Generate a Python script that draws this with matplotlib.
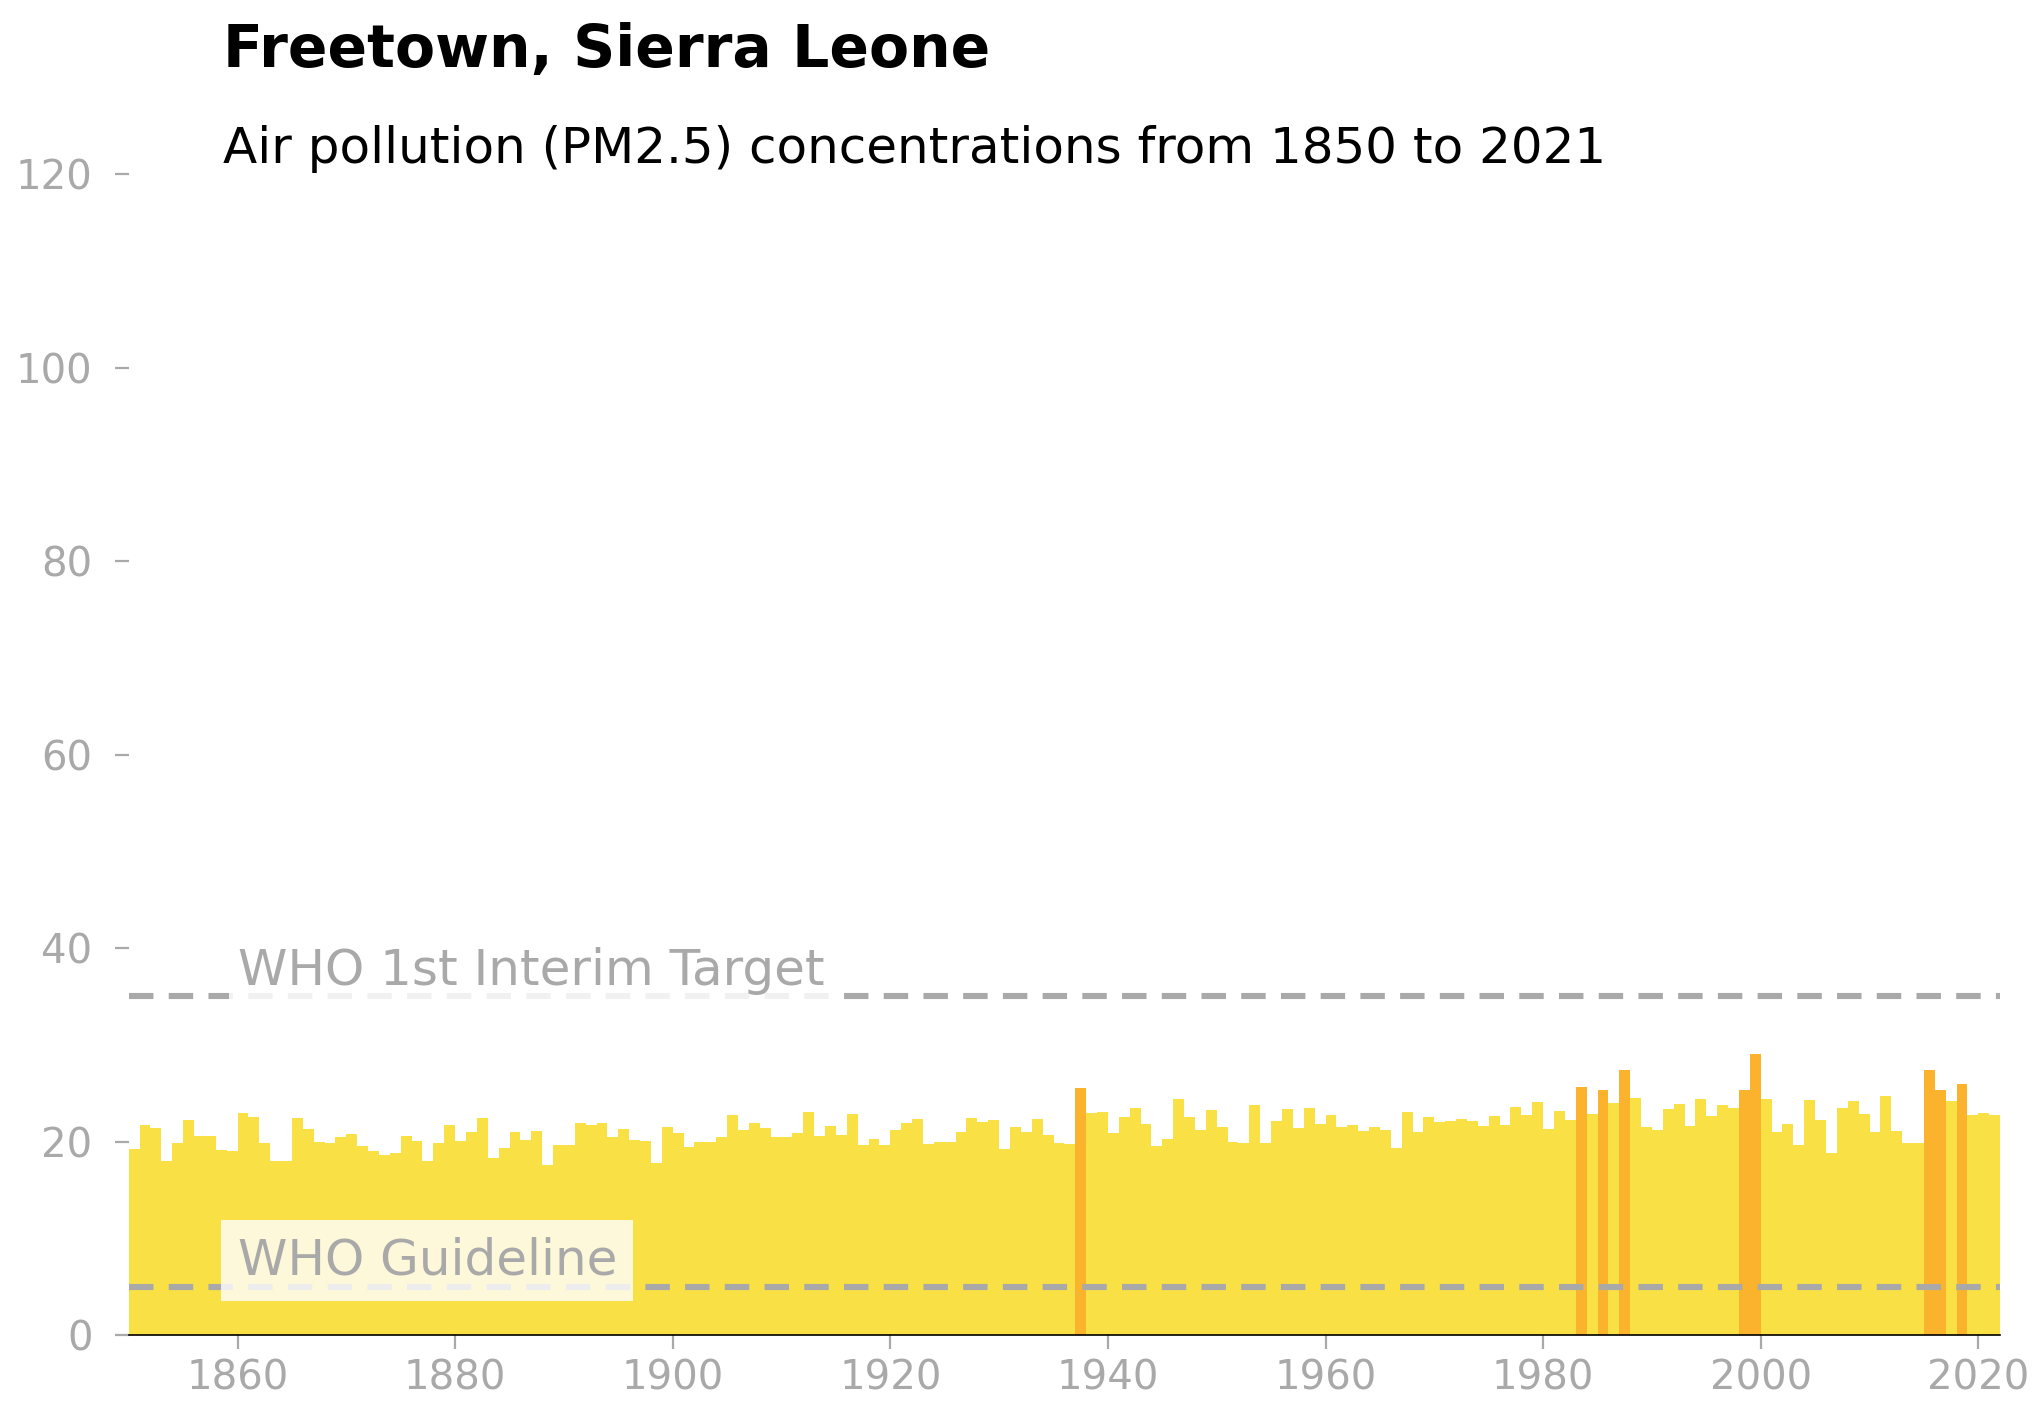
import numpy as np
import matplotlib.pyplot as plt

years = list(range(1850, 2022))
pm25 = [19.2, 21.7, 21.4, 18.0, 19.8, 22.2, 20.6, 20.6, 19.1, 19.0,
        23.0, 22.5, 19.8, 18.0, 18.0, 22.4, 21.3, 20.0, 19.9, 20.5,
        20.8, 19.5, 19.0, 18.6, 18.8, 20.6, 20.1, 18.0, 19.9, 21.7,
        20.1, 21.0, 22.4, 18.3, 19.3, 21.0, 20.2, 21.1, 17.6, 19.6,
        19.6, 21.9, 21.7, 21.9, 20.5, 21.3, 20.2, 20.1, 17.8, 21.5,
        20.9, 19.4, 20.0, 20.0, 20.5, 22.7, 21.2, 21.9, 21.4, 20.5,
        20.5, 20.9, 23.1, 20.6, 21.6, 20.7, 22.8, 19.6, 20.3, 19.6,
        21.2, 21.9, 22.3, 19.7, 20.0, 20.0, 21.0, 22.4, 22.0, 22.2,
        19.2, 21.5, 21.0, 22.3, 20.7, 19.9, 19.7, 25.5, 23.0, 23.1,
        20.9, 22.5, 23.5, 21.8, 19.5, 20.3, 24.4, 22.5, 21.2, 23.3,
        21.5, 20.0, 19.9, 23.8, 19.9, 22.1, 23.4, 21.4, 23.5, 21.8,
        22.7, 21.5, 21.7, 21.1, 21.5, 21.2, 19.3, 23.1, 21.0, 22.5,
        22.0, 22.1, 22.3, 22.1, 21.6, 22.6, 21.7, 23.6, 22.7, 24.1,
        21.3, 23.2, 22.2, 25.6, 22.8, 25.3, 24.0, 27.4, 24.5, 21.5,
        21.2, 23.4, 23.9, 21.6, 24.4, 22.6, 23.8, 23.5, 25.3, 29.0,
        24.4, 21.0, 21.8, 19.6, 24.3, 22.2, 18.8, 23.5, 24.2, 22.8,
        21.0, 24.7, 21.1, 19.9, 19.8, 27.4, 25.3, 24.2, 26.0, 22.7,
        23.0, 22.7]

who_guideline = 5
who_interim1 = 35

colors = ['#fbb32d' if v > 25 else '#f8e045' for v in pm25]

fig = plt.figure(figsize=(10.215, 7.075), dpi=200)
ax = fig.add_axes([0.063, 0.0565, 0.916, 0.8205])

ax.bar(years, pm25, width=1.0, align='edge', color=colors, linewidth=0)

gray = '#a9a9a9'
ax.axhline(who_interim1, color=gray, ls=(0, (4, 2.5)), lw=2.2, zorder=3)
ax.axhline(who_guideline, color=gray, ls=(0, (4, 2.5)), lw=2.2, zorder=3)
ax.text(1860.0, 36.2, 'WHO 1st Interim Target', color=gray, fontsize=18,
        zorder=4, bbox=dict(facecolor='white', alpha=0.85, edgecolor='none', pad=3))
ax.text(1860.0, 6.3, 'WHO Guideline', color=gray, fontsize=18, zorder=4,
        bbox=dict(facecolor='white', alpha=0.8, edgecolor='none', pad=6))

ax.set_xlim(1850, 2022)
ax.set_ylim(0, 120)
ax.set_yticks([0, 20, 40, 60, 80, 100, 120])
ax.set_xticks([1860, 1880, 1900, 1920, 1940, 1960, 1980, 2000, 2020])
for s in ['top', 'right', 'left']:
    ax.spines[s].set_visible(False)
ax.spines['bottom'].set_linewidth(0.6)
ax.tick_params(colors=gray, labelsize=14.5)
ax.tick_params(axis='x', length=5)
ax.tick_params(axis='y', length=5, pad=8)

fig.text(0.109, 0.964, 'Freetown, Sierra Leone', fontsize=21, fontweight='bold', va='center')
fig.text(0.109, 0.895, 'Air pollution (PM2.5) concentrations from 1850 to 2021', fontsize=18, va='center')

fig.savefig('out.png', dpi=200)
